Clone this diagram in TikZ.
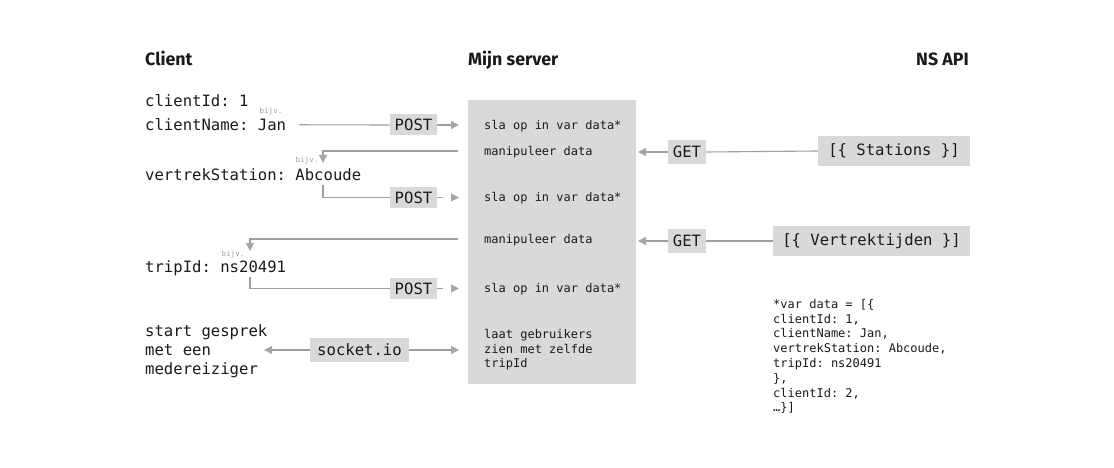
\documentclass[tikz,border=0pt]{standalone}
\usepackage{fontspec}
\setmainfont{Fira Sans}
\newfontfamily\mono{DejaVu Sans Mono}
\usetikzlibrary{arrows.meta}
\definecolor{boxg}{HTML}{D9D9D9}
\definecolor{lineg}{HTML}{9E9E9E}
\definecolor{tipg}{HTML}{A6A6A6}
\definecolor{ink}{HTML}{1A1A1A}
\frenchspacing
\begin{document}
\begin{tikzpicture}[x=1pt,y=-1pt,
  hdr/.style={font=\fontsize{17.8}{20}\selectfont\bfseries, text=ink, inner sep=0},
  big/.style={font=\mono\fontsize{15.6}{19}\selectfont, text=ink, inner sep=0, anchor=mid west},
  small/.style={font=\mono\fontsize{12}{14.6}\selectfont, text=ink, inner sep=0, anchor=mid west},
  tiny/.style={font=\mono\fontsize{7.5}{9}\selectfont, text=lineg, inner sep=0},
  tag/.style={fill=boxg, font=\mono\fontsize{15.6}{19}\selectfont, text=ink, inner xsep=5, inner ysep=0, minimum height=21},
  conn/.style={draw=lineg, line width=1.1},
  tip/.style={-{Triangle[length=8,width=8,color=tipg]}},
  gaptip/.style={tip, dash pattern=on 6 off 40}
]
\useasboundingbox (0,0) rectangle (1114,468);

% headers
\node[hdr, anchor=base west] (hc) at (145,66) {Client};
\node[hdr, anchor=base west] (hs) at (468,66) {Mijn server};
\node[hdr, anchor=base east] (hn) at (969,66) {NS API};

% server box
\node[fill=boxg, minimum width=168, minimum height=284, inner sep=0] (srv) at (552,242) {};

% client texts
\node[big] (cid) at (145,104) {clientId: 1};
\node[big] (cname) at (145,128) {clientName: Jan};
\node[big] (vst) at (145,178) {vertrekStation: Abcoude};
\node[big] (trip) at (145,270) {tripId: ns20491};
\node[big, align=left, anchor=west] (start) at (145,351) {start gesprek\\met een\\medereiziger};

% bijv labels
\node[tiny] (b1) at (271,111) {bijv.};
\node[tiny] (b2) at (307,160) {bijv.};
\node[tiny] (b3) at (233,254) {bijv.};

% tags
\node[tag] (post1) at (413.5,125) {POST};
\node[tag] (post2) at (413.5,197.5) {POST};
\node[tag] (post3) at (413.5,288.5) {POST};
\node[tag, minimum height=24] (get1) at (687,152) {GET};
\node[tag, minimum height=24] (get2) at (687,241) {GET};
\node[tag, minimum height=24, inner xsep=7] (sock) at (359.5,350) {socket.io};
\node[tag, minimum height=30, inner xsep=10] (stations) at (894,151) {[\{ Stations \}]};
\node[tag, minimum height=30, inner xsep=9] (vert) at (871.5,241) {[\{ Vertrektijden \}]};

% server texts
\node[small] (s1) at (484,127) {sla op in var data*};
\node[small] (m1) at (484,153) {manipuleer data};
\node[small] (s2) at (484,199) {sla op in var data*};
\node[small] (m2) at (484,241) {manipuleer data};
\node[small] (s3) at (484,290) {sla op in var data*};
\node[small, align=left, anchor=west] (laat) at (484,350) {laat gebruikers\\zien met zelfde\\tripId};

% var data
\node[font=\mono\fontsize{12}{14.8}\selectfont, text=ink, inner sep=0, align=left, anchor=north west] (vd) at (773,299)
  {*var data = [\{\\clientId: 1,\\clientName: Jan,\\vertrekStation: Abcoude,\\tripId: ns20491\\\},\\clientId: 2,\\…\}]};

% coordinates
\coordinate (a1) at (459,125);
\coordinate (a2) at (459,197.5);
\coordinate (a3) at (459,288.5);
\coordinate (m1s) at (458,151);
\coordinate (m1e) at (323,163);
\coordinate (m2s) at (458,239);
\coordinate (m2e) at (250,251);
\coordinate (v2) at (323,185);
\coordinate (v3) at (250,277);
\coordinate (sl) at (264,350);
\coordinate (sr) at (459,350);
\coordinate (g1) at (638,152);
\coordinate (g2) at (638,241);

% connectors
\draw[conn] ([xshift=13]cname.east) -- (post1.west);
\draw[conn, tip] (post1.east) -- (a1);
\draw[conn, tip] (m1s) -| (m1e);
\draw[conn] (v2) |- (post2.west);
\draw[conn, gaptip] (post2.east) -- (a2);
\draw[conn, tip] (m2s) -| (m2e);
\draw[conn] (v3) |- (post3.west);
\draw[conn, gaptip] (post3.east) -- (a3);
\draw[conn, tip] (sock.west) -- (sl);
\draw[conn, tip] (sock.east) -- (sr);
\draw[conn, tip] (get1.west) -- (g1);
\draw[conn] (stations.west) -- (get1.east);
\draw[conn, tip] (get2.west) -- (g2);
\draw[conn] (vert.west) -- (get2.east);
\end{tikzpicture}
\end{document}
